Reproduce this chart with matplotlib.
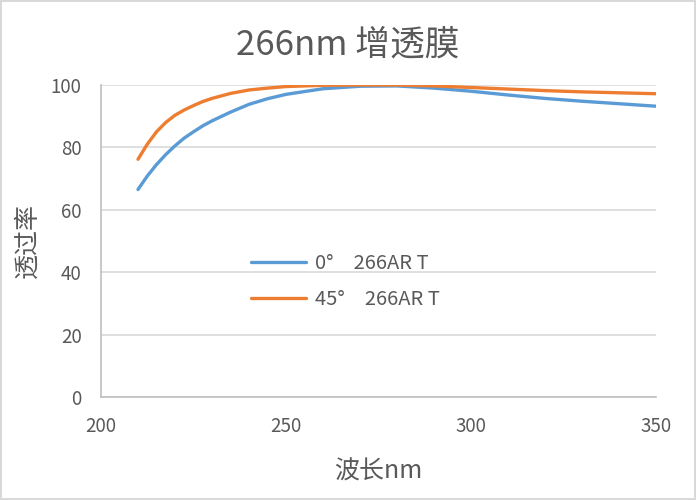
import matplotlib.pyplot as plt

plt.rcParams['font.family'] = ['Noto Sans CJK SC', 'DejaVu Sans']

wavelength = [210, 212.5, 215, 217.5, 220, 222.5, 225, 227.5, 230, 235, 240, 245, 250, 260,
              270, 280, 290, 300, 310, 320, 330, 340, 350]
t_0deg = [66.5, 70.8, 74.5, 77.7, 80.5, 83.0, 85.0, 86.9, 88.5, 91.3, 93.8, 95.6, 97.0, 98.8,
          99.6, 99.7, 99.0, 98.0, 96.8, 95.7, 94.8, 94.0, 93.2]
t_45deg = [76.2, 81.0, 85.0, 88.0, 90.3, 92.0, 93.4, 94.7, 95.7, 97.3, 98.4, 99.0, 99.5, 99.9,
           100.0, 100.0, 99.7, 99.2, 98.7, 98.2, 97.8, 97.5, 97.2]
labels = ['0°\u3000266AR T', '45°\u3000266AR T']

grey = '#595959'
line_grey = '#d9d9d9'

fig = plt.figure(figsize=(6.96, 5), dpi=100, edgecolor=line_grey, linewidth=1.5)
ax = fig.add_axes([0.1451, 0.206, 0.7974, 0.624])

ax.plot(wavelength, t_0deg, color='#5B9BD5', linewidth=2.4, label=labels[0], solid_capstyle='round')
ax.plot(wavelength, t_45deg, color='#ED7D31', linewidth=2.4, label=labels[1], solid_capstyle='round')

ax.set_xlim(200, 350)
ax.set_ylim(0, 100)
ax.set_xticks([200, 250, 300, 350])
ax.set_yticks([0, 20, 40, 60, 80, 100])
ax.grid(axis='y', color=line_grey, linewidth=1.2)
ax.set_axisbelow(True)
for s in ['top', 'right']:
    ax.spines[s].set_visible(False)
for s in ['left', 'bottom']:
    ax.spines[s].set_color('#bfbfbf')
    ax.spines[s].set_linewidth(1.2)
ax.tick_params(length=0, labelsize=13.5, colors=grey)
ax.tick_params(axis='x', pad=14)
ax.tick_params(axis='y', pad=14)

fig.text(0.5, 0.91, '266nm 增透膜', fontsize=25, color=grey, ha='center', va='center')
ax.set_xlabel('波长nm', fontsize=18, color=grey, labelpad=15)
ax.set_ylabel('透过率', fontsize=18, color=grey, labelpad=7)

ax.legend(loc='upper left', bbox_to_anchor=(0.335, 0.531), bbox_transform=fig.transFigure,
          frameon=False, fontsize=14.5, handlelength=2.7, labelspacing=0.75,
          labelcolor=grey, handletextpad=0.45)

fig.savefig('out.png', dpi=100, edgecolor=fig.get_edgecolor())
